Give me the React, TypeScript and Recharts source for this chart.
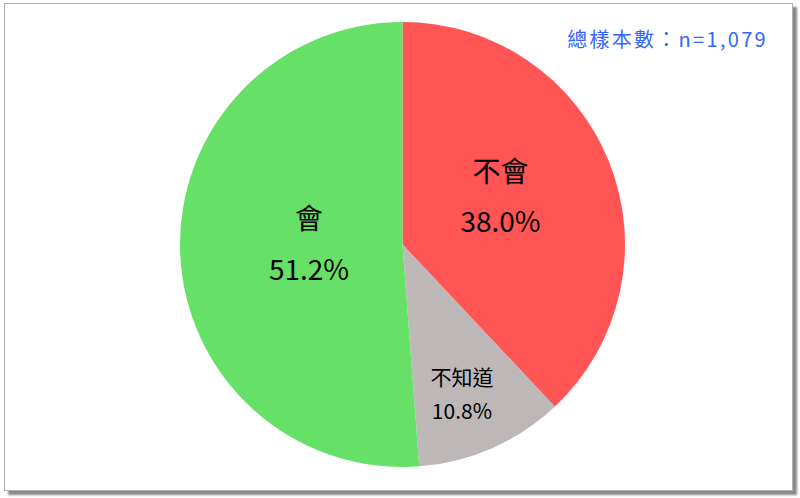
import React from "react";
import { PieChart, Pie, Cell } from "recharts";

const categories = ["不會", "不知道", "會"];
const values = [38.0, 10.8, 51.2];
const colors = ["#FF5555", "#BDB7B7", "#66E066"];
const sampleText = "總樣本數：n=1,079";

const data = categories.map((name, i) => ({ name, value: values[i] }));

const RAD = Math.PI / 180;
const labelStyle: Record<string, { r: number; da: number; size: number; gap: number }> = {
  "不會": { r: 0.49, da: 4.4, size: 28, gap: 50 },
  "不知道": { r: 0.727, da: -2.2, size: 21, gap: 34 },
  "會": { r: 0.42, da: -2.2, size: 28, gap: 51 },
};

const renderLabel = (props: any) => {
  const { cx, cy, midAngle, outerRadius, name, value } = props;
  const st = labelStyle[name];
  const r = outerRadius * st.r;
  const a = midAngle + st.da;
  const x = cx + r * Math.cos(-a * RAD);
  const y = cy + r * Math.sin(-a * RAD) - 2;
  return (
    <g>
      <text
        x={x}
        y={y - st.gap / 2}
        textAnchor="middle"
        dominantBaseline="central"
        fontSize={st.size}
        fill="#000"
        fontFamily="'Noto Sans CJK TC', 'Noto Sans', sans-serif"
      >
        {name}
      </text>
      <text
        x={x}
        y={y + st.gap / 2}
        textAnchor="middle"
        dominantBaseline="central"
        fontSize={st.size}
        fill="#000"
        fontFamily="'Noto Sans CJK TC', 'Noto Sans', sans-serif"
      >
        {value.toFixed(1) + "%"}
      </text>
    </g>
  );
};

export default function App() {
  return (
    <div
      style={{
        position: "absolute",
        left: 0,
        top: 0,
        width: 800,
        height: 498,
        background: "#fff",
      }}
    >
      <div
        style={{
          position: "absolute",
          left: 4,
          top: 3,
          width: 787,
          height: 486,
          border: "1px solid #b0b0b0",
          boxShadow: "4px 4px 2px #8a8a8a",
          background: "#fff",
        }}
      />
      <div style={{ position: "absolute", left: 0, top: 0 }}>
        <PieChart width={800} height={498} margin={{ top: 0, right: 0, bottom: 0, left: 0 }}>
          <Pie
            data={data}
            dataKey="value"
            nameKey="name"
            cx={402.5}
            cy={244.5}
            outerRadius={222.5}
            startAngle={90}
            endAngle={-270}
            stroke="none"
            isAnimationActive={false}
            labelLine={false}
            label={renderLabel}
          >
            {data.map((d, i) => (
              <Cell key={d.name} fill={colors[i]} />
            ))}
          </Pie>
          <text
            x={768}
            y={38}
            textAnchor="end"
            dominantBaseline="central"
            fontSize={20}
            letterSpacing={2.3}
            fill="#3366FF"
            fontFamily="'Noto Sans CJK TC', 'Noto Sans', sans-serif"
          >
            {sampleText}
          </text>
        </PieChart>
      </div>
    </div>
  );
}
